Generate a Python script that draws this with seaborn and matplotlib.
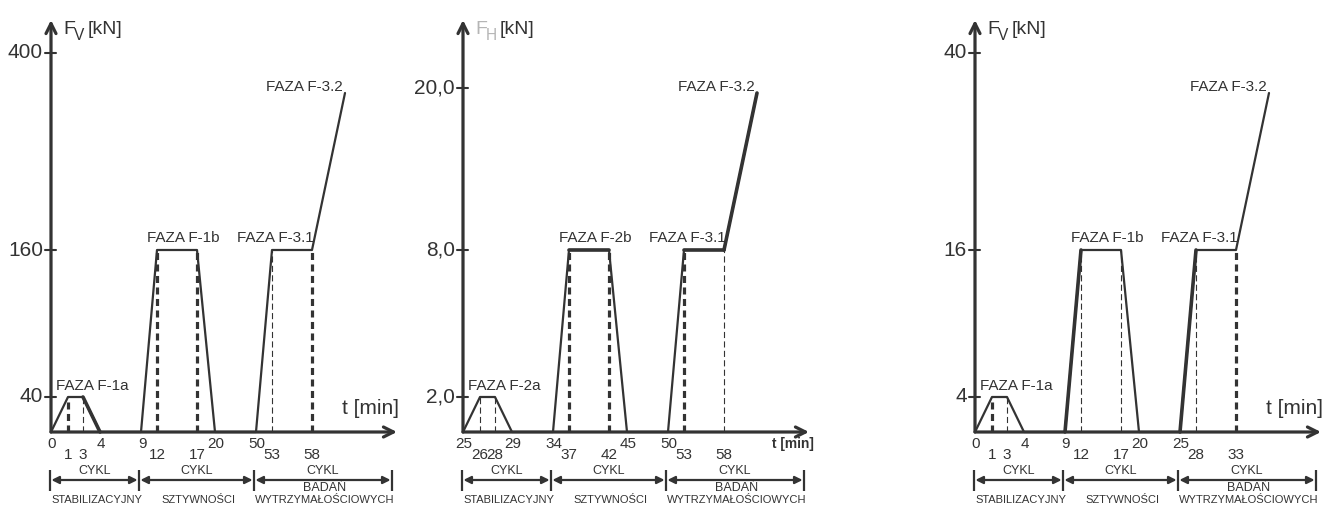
import matplotlib.pyplot as plt
import seaborn as sns
import pandas as pd
from matplotlib import font_manager

# ---- data ---------------------------------------------------------------
# panel 1: vertical load F_V
TIME_1 = [0, 1, 3, 4, 9, 12, 17, 20, 50, 53, 58]
FORCE_1 = [0, 40, 40, 0, 0, 160, 160, 0, 0, 160, 160]
YTICKS_1 = [40, 160, 400]
YLABELS_1 = ['40', '160', '400']
PHASES_1 = ['FAZA F-1a', 'FAZA F-1b', 'FAZA F-3.1', 'FAZA F-3.2']

# panel 2: horizontal load F_H
TIME_2 = [25, 26, 28, 29, 34, 37, 42, 45, 50, 53, 58]
FORCE_2 = [0, 2.0, 2.0, 0, 0, 8.0, 8.0, 0, 0, 8.0, 8.0]
YTICKS_2 = [2.0, 8.0, 20.0]
YLABELS_2 = ['2,0', '8,0', '20,0']
PHASES_2 = ['FAZA F-2a', 'FAZA F-2b', 'FAZA F-3.1', 'FAZA F-3.2']

# panel 3: vertical load F_V, lower level
TIME_3 = [0, 1, 3, 4, 9, 12, 17, 20, 25, 28, 33]
FORCE_3 = [0, 4, 4, 0, 0, 16, 16, 0, 0, 16, 16]
YTICKS_3 = [4, 16, 40]
YLABELS_3 = ['4', '16', '40']
PHASES_3 = ['FAZA F-1a', 'FAZA F-1b', 'FAZA F-3.1', 'FAZA F-3.2']

CYCLE_TOP = ['CYKL', 'CYKL', 'CYKL']
CYCLE_BOTTOM = ['STABILIZACYJNY', 'SZTYWNOŚCI', 'WYTRZYMAŁOŚCIOWYCH']
CYCLE_MID = ['', '', 'BADAŃ']

# ---- schematic layout (drawing units = pixels from the origin) ----------
XPOS = [0, 17, 32, 49, 90, 106, 146, 164, 205, 221, 261]
LOWER_ROW = [1, 2, 5, 6, 9, 10]
BRACKETS = [-1, 88, 203, 341]
PHASE_X = [41, 132, 224]
PHASE_Y = [46, 194, 194]
RISE_END = (294, 339)
X_END = 346
Y_END = 412

INK = '#333333'

sns.set_theme(style='white')
names = {f.name for f in font_manager.fontManager.ttflist}
if 'Liberation Sans Narrow' in names:
    plt.rcParams['font.family'] = ['Liberation Sans Narrow', 'DejaVu Sans']
    SZ = dict(ytick=17, time=12.5, phase=13, cycle=10.5, bottom=9.6,
              unit=16, tmin=17)
else:
    plt.rcParams['font.family'] = ['Liberation Sans', 'DejaVu Sans']
    SZ = dict(ytick=15, time=11, phase=11, cycle=9, bottom=8,
              unit=14, tmin=15)


def dashed(ax, x, top, kind):
    if kind == 'thick':
        ax.plot([x, x], [0, top], color=INK, lw=2.3,
                linestyle=(0, (2.2, 1.4)), solid_capstyle='butt')
    else:
        ax.plot([x, x], [0, top], color=INK, lw=0.8,
                linestyle=(0, (5.5, 3)))


def draw_panel(ax, times, forces, yticks, ylabels, phases, top,
               dash_kinds, thick_segs, sub, sub_color, tmin_style):
    levels = dict(zip(yticks, [35, 182, top]))
    levels[0] = 0
    ys = [levels[f] for f in forces]
    df = pd.DataFrame({'x': XPOS + [RISE_END[0]], 'y': ys + [RISE_END[1]]})

    # axes with arrows
    ax.annotate('', xy=(0, Y_END), xytext=(0, 0),
                arrowprops=dict(arrowstyle='->', lw=2.3, color=INK,
                                shrinkA=0, shrinkB=0, mutation_scale=18))
    ax.annotate('', xy=(X_END, 0), xytext=(0, 0),
                arrowprops=dict(arrowstyle='->', lw=2.3, color=INK,
                                shrinkA=0, shrinkB=0, mutation_scale=18))

    # load profile
    sns.lineplot(data=df, x='x', y='y', sort=False, estimator=None,
                 color=INK, lw=1.6, ax=ax, legend=False)
    for s in thick_segs:
        if s == 'rise':
            ax.plot([XPOS[-1], RISE_END[0]], [ys[-1], RISE_END[1]],
                    color=INK, lw=2.6, solid_capstyle='round')
        else:
            ax.plot(XPOS[s:s + 2], ys[s:s + 2], color=INK, lw=2.6,
                    solid_capstyle='round')

    # vertical dashed guides
    for idx, kind in zip(LOWER_ROW, dash_kinds):
        dashed(ax, XPOS[idx], ys[idx], kind)

    # y ticks
    for lev, lab in zip([35, 182, top], ylabels):
        ax.plot([-6, 5], [lev, lev], color=INK, lw=1.5)
        ax.text(-8, lev, lab, ha='right', va='center', fontsize=SZ['ytick'],
                color=INK)

    # time labels
    for i, (xp, t) in enumerate(zip(XPOS, times)):
        if i in LOWER_ROW:
            ax.text(xp, -23, str(t), ha='center', va='center',
                    fontsize=SZ['time'], color=INK)
        else:
            ax.text(xp + 1, -12, str(t), ha='center', va='center',
                    fontsize=SZ['time'], color=INK)

    # phase names
    for xp, yp, name in zip(PHASE_X, PHASE_Y, phases[:3]):
        ax.text(xp, yp, name, ha='center', va='center',
                fontsize=SZ['phase'], color=INK)
    ax.text(RISE_END[0] - 2, RISE_END[1] + 6, phases[3], ha='right',
            va='center', fontsize=SZ['phase'], color=INK)

    # axis titles
    ax.text(12, 402, 'F', ha='left', va='center', fontsize=SZ['unit'],
            color=sub_color)
    ax.text(23, 396, sub, ha='left', va='center',
            fontsize=SZ['unit'] * 0.8, color=sub_color)
    ax.text(37, 402, '[kN]', ha='left', va='center', fontsize=SZ['unit'],
            color=INK)
    if tmin_style == 'normal':
        ax.text(319, 23, 't [min]', ha='center', va='center',
                fontsize=SZ['tmin'], color=INK)
    else:
        ax.text(309, -12, 't [min]', ha='left', va='center',
                fontsize=SZ['time'] * 0.9, fontweight='bold', color=INK)

    # cycle brackets
    ax.vlines(BRACKETS, -59, -38, color=INK, lw=1.6)
    for i in range(3):
        ax.annotate('', xy=(BRACKETS[i + 1], -48), xytext=(BRACKETS[i], -48),
                    arrowprops=dict(arrowstyle='<|-|>', lw=1.6, color=INK,
                                    shrinkA=1, shrinkB=1, mutation_scale=11))
        cx = (BRACKETS[i] + BRACKETS[i + 1]) / 2
        ax.text(cx, -39, CYCLE_TOP[i], ha='center', va='center',
                fontsize=SZ['cycle'], color=INK)
        if CYCLE_MID[i]:
            ax.text(cx + 2, -56, CYCLE_MID[i], ha='center', va='center',
                    fontsize=SZ['cycle'], color=INK)
        ax.text(cx + 2, -68, CYCLE_BOTTOM[i], ha='center', va='center',
                fontsize=SZ['bottom'], color=INK)


fig = plt.figure(figsize=(13.24, 5.05), dpi=100)
W, H = 1324, 505
panels = [
    (51, TIME_1, FORCE_1, YTICKS_1, YLABELS_1, PHASES_1, 379,
     ['thick', 'thin', 'thick', 'thick', 'thin', 'thick'], [2],
     'V', INK, 'normal'),
    (463, TIME_2, FORCE_2, YTICKS_2, YLABELS_2, PHASES_2, 344,
     ['thin', 'thin', 'thick', 'thick', 'thick', 'thin'], [5, 9, 'rise'],
     'H', '#b5b5b5', 'bold'),
    (975, TIME_3, FORCE_3, YTICKS_3, YLABELS_3, PHASES_3, 379,
     ['thick', 'thin', 'thin', 'thin', 'thin', 'thick'], [4, 8],
     'V', INK, 'normal'),
]
for ox, *args in panels:
    left = ox - 51
    right = min(ox + 369, W)
    ax = fig.add_axes([left / W, 0, (right - left) / W, 1])
    ax.set_xlim(-51, right - ox)
    ax.set_ylim(-(H - 432), 432)
    ax.axis('off')
    ax.patch.set_visible(False)
    draw_panel(ax, *args)

fig.savefig('out.png', dpi=100)
